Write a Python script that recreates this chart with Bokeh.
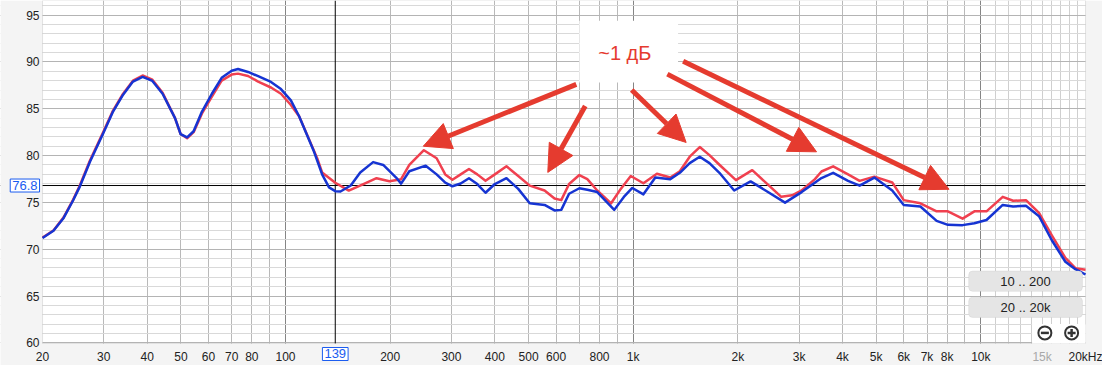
from bokeh.plotting import figure
from bokeh.models import (FixedTicker, Grid, Span, Label, Arrow, NormalHead, BoxAnnotation,
                          LogAxis, LinearAxis)
from bokeh.embed import file_html
from bokeh.resources import INLINE

# ---- data ----
freq_red = [20, 21.5, 23.0, 24.5, 25.6, 27.4, 29.9, 31.9, 34.1, 36.4, 38.8, 41.4, 44.3, 48.1,
            49.9, 52.1, 54.4, 57.5, 61.4, 65.5, 70, 73, 78, 83.4, 90.8, 97, 103.6, 109.4,
            123.4, 127.4, 139, 152, 167.5, 182.7, 199, 215, 227, 250, 272, 288, 302, 319,
            337, 356, 376, 400, 432, 467, 504, 556, 594, 621, 654, 700, 738, 788, 864, 921,
            984, 1070, 1170, 1278, 1362, 1454, 1554, 1657, 1770, 1975, 2200, 2402, 2666,
            2864, 3052, 3332, 3480, 3760, 4150, 4480, 4940, 5560, 6000, 6700, 7460, 8040,
            8860, 9580, 10380, 11560, 12380, 13480, 14700, 16000, 17500, 18700, 20000]
red_db = [71.25, 72.0, 73.4, 75.3, 76.8, 79.5, 82.5, 84.8, 86.6, 88.0, 88.55, 88.1, 86.7, 84.0,
          82.3, 81.85, 82.5, 84.5, 86.3, 88.0, 88.65, 88.75, 88.5, 87.9, 87.27, 86.6, 85.4, 84.2,
          79.7, 78.2, 77.1, 76.26, 76.96, 77.58, 77.25, 77.48, 79.0, 80.57, 79.71, 77.99, 77.41,
          77.99, 78.57, 77.99, 77.3, 77.99, 78.85, 77.82, 76.79, 76.27, 75.41, 75.24, 76.96,
          77.92, 77.48, 76.27, 74.9, 76.44, 77.82, 77.04, 78.06, 77.65, 78.33, 79.88, 80.91,
          80.05, 79.02, 77.38, 78.44, 77.14, 75.59, 75.76, 76.27, 77.48, 78.3, 78.85, 77.99,
          77.3, 77.75, 77.13, 75.24, 74.9, 74.04, 74.04, 73.26, 74.04, 74.04, 75.59, 75.17,
          75.24, 73.87, 71.48, 69.07, 67.97, 67.8]

freq_blue = [20, 21.5, 23.0, 24.5, 25.6, 27.4, 29.9, 31.9, 34.1, 36.4, 38.8, 41.4, 44.3, 48.1,
             49.9, 52.1, 54.4, 57.5, 61.4, 65.5, 70, 73, 78, 83.4, 90.8, 97, 103.6, 109.4,
             120.8, 127.4, 133.4, 139, 143.9, 154, 164, 178.6, 191, 208, 215, 227, 253, 272,
             288, 302, 319, 337, 356, 376, 400, 432, 467, 504, 556, 594, 621, 654, 700, 738,
             788, 882, 940, 994, 1070, 1158, 1278, 1362, 1454, 1554, 1657, 1770, 1952, 2176,
             2402, 2734, 3052, 3480, 3760, 4150, 4480, 4940, 5560, 6000, 6700, 7460, 8040,
             8860, 9580, 10380, 11560, 12380, 13480, 14700, 16000, 17500, 18700, 20000]
blue_db = [71.2, 71.97, 73.34, 75.23, 76.68, 79.36, 82.39, 84.7, 86.5, 87.9, 88.4, 87.97, 86.6,
           84.0, 82.3, 81.94, 82.6, 84.7, 86.6, 88.3, 89.06, 89.24, 88.93, 88.48, 87.86, 87.1,
           85.9, 84.2, 80.4, 78.0, 76.6, 76.2, 76.16, 76.8, 78.2, 79.3, 79.0, 77.65, 77.0, 78.33,
           78.92, 77.99, 77.1, 76.72, 77.02, 77.58, 76.96, 76.03, 76.96, 77.58, 76.44, 74.9,
           74.73, 74.14, 74.2, 75.92, 76.51, 76.34, 76.1, 74.2, 75.58, 76.54, 75.86, 77.65,
           77.48, 78.16, 79.19, 79.88, 79.19, 78.16, 76.27, 77.24, 76.27, 74.97, 76.1, 77.6,
           78.16, 77.3, 76.79, 77.65, 76.27, 74.73, 74.56, 73.02, 72.6, 72.57, 72.78, 73.12,
           74.73, 74.56, 74.63, 73.53, 70.96, 68.66, 67.87, 67.3]

x_ticks = [20, 30, 40, 50, 60, 70, 80, 100, 200, 300, 400, 500, 600, 800, 1000, 2000,
           3000, 4000, 5000, 6000, 7000, 8000, 10000, 20000]
x_tick_labels = ["20", "30", "40", "50", "60", "70", "80", "100", "200", "300", "400", "500",
                 "600", "800", "1k", "2k", "3k", "4k", "5k", "6k", "7k", "8k", "10k", "20kHz"]
x_extra_tick = [15000]
x_extra_label = ["15k"]
y_ticks = [60, 65, 70, 75, 80, 85, 90, 95]
y_fine = list(range(61, 97))
grid_regular = [30, 40, 50, 60, 70, 80, 90, 200, 300, 400, 500, 600, 700, 800, 900,
                2000, 3000, 4000, 5000, 6000, 7000, 8000, 9000]
grid_decades = [100, 1000, 10000]
grid_fine_hi = [11000, 12000, 13000, 14000, 15000, 16000, 17000, 18000, 19000]

cursor_freq = 139
cursor_db = 76.8
note_text = "~1 дБ"
button_texts = ["10 .. 200", "20 .. 20k"]

# ---- styling / layout ----
FONT = "Liberation Sans"
RED = "#f0404f"
BLUE = "#1634d2"
ARROW = "#e53b2f"
CURSOR_BLUE = "#1a5cf0"
PANEL = "#f4f4f4"
F_LO, F_HI = 20, 20000          # plot area in Hz
Y0, Y1 = 59.93, 96.56           # plot area in dB
XR = (15.14, 22381)             # whole canvas (incl. label margins)
YR = (57.58, 96.56)

p = figure(x_axis_type="log", x_range=XR, y_range=YR,
           frame_width=1102, frame_height=365, min_border=0,
           x_axis_location=None, y_axis_location=None,
           output_backend="svg", toolbar_location=None,
           background_fill_color="white", border_fill_color=PANEL, outline_line_color=None)

# grids
p.add_layout(Grid(dimension=0, ticker=FixedTicker(ticks=grid_fine_hi), grid_line_color="#cfcfcf"))
p.add_layout(Grid(dimension=0, ticker=FixedTicker(ticks=grid_regular), grid_line_color="#b9b9b9"))
p.add_layout(Grid(dimension=0, ticker=FixedTicker(ticks=grid_decades), grid_line_color="#858585"))
p.add_layout(Grid(dimension=1, ticker=FixedTicker(ticks=y_fine), grid_line_color="#d9d9d9"))
p.add_layout(Grid(dimension=1, ticker=FixedTicker(ticks=y_ticks), grid_line_color="#b4b4b4"))

# cursor lines (underlay, cut off by the label margins)
p.add_layout(Span(location=cursor_freq, dimension="height", line_color="black", line_width=1,
                  level="underlay"))
p.add_layout(Span(location=cursor_db, dimension="width", line_color="black", line_width=1,
                  level="underlay"))

# grey label margins around the plot area
p.add_layout(BoxAnnotation(right=F_LO, level="underlay", fill_color=PANEL, fill_alpha=1,
                           line_color=None))
p.add_layout(BoxAnnotation(left=F_HI, level="underlay", fill_color=PANEL, fill_alpha=1,
                           line_color=None))
p.add_layout(BoxAnnotation(top=Y0, level="underlay", fill_color=PANEL, fill_alpha=1,
                           line_color=None))
p.add_layout(BoxAnnotation(left=F_LO, right=F_HI, bottom=Y0, level="underlay",
                           fill_color=None, fill_alpha=0, line_color="#a8a8a8", line_width=1))

# white patches (note background, zoom icons background)
p.add_layout(BoxAnnotation(left=700, right=1346, top=94.4, bottom=87.8, level="underlay",
                           fill_color="white", fill_alpha=1, line_color=None))
p.add_layout(BoxAnnotation(left=14040, right=F_HI, top=62.0, bottom=Y0, level="underlay",
                           fill_color="white", fill_alpha=1, line_color=None))


def style_axis(ax, color="#222222", standoff=6):
    ax.axis_line_color = None
    ax.major_tick_line_color = None
    ax.minor_tick_line_color = None
    ax.major_tick_out = 0
    ax.major_tick_in = 0
    ax.major_label_text_font = FONT
    ax.major_label_text_font_size = "12px"
    ax.major_label_text_color = color
    ax.major_label_standoff = standoff


xaxis = LogAxis(fixed_location=Y0, ticker=FixedTicker(ticks=x_ticks),
                major_label_overrides={t: l for t, l in zip(x_ticks, x_tick_labels)})
style_axis(xaxis, standoff=7)
p.add_layout(xaxis, "below")
ax_15k = LogAxis(fixed_location=Y0, ticker=FixedTicker(ticks=x_extra_tick),
                 major_label_overrides={t: l for t, l in zip(x_extra_tick, x_extra_label)})
style_axis(ax_15k, "#a8a8a8", standoff=7)
p.add_layout(ax_15k, "below")
yaxis = LinearAxis(fixed_location=F_LO, ticker=FixedTicker(ticks=y_ticks))
style_axis(yaxis, standoff=3)
p.add_layout(yaxis, "left")

# curves
p.line(freq_red, red_db, line_color=RED, line_width=2.5, line_join="round")
p.line(freq_blue, blue_db, line_color=BLUE, line_width=2.5, line_join="round")

# note and arrows
p.add_layout(Label(x=946, y=90.9, text=note_text, text_align="center", text_baseline="middle",
                   text_font=FONT, text_font_size="20px", text_color=ARROW))
arrows = [(686, 87.6, 249, 81.0), (728, 85.3, 568, 78.2), (990, 87.0, 1420, 81.4),
          (1254, 88.7, 3368, 80.4), (1392, 90.06, 8100, 76.4)]
for xs, ys, xe, ye in arrows:
    p.add_layout(Arrow(end=NormalHead(size=27, fill_color=ARROW, line_color=ARROW, line_width=1),
                       x_start=xs, y_start=ys, x_end=xe, y_end=ye,
                       line_color=ARROW, line_width=5))

# buttons and zoom icons
for (top, bottom), txt in zip([(67.67, 65.5), (64.88, 62.71)], button_texts):
    p.add_layout(BoxAnnotation(left=9226, right=19600, top=top, bottom=bottom,
                               fill_color="#e5e5e5", fill_alpha=1, line_color="#c6c6c6",
                               line_width=1, border_radius=4))
    p.add_layout(Label(x=13440, y=(top + bottom) / 2, text=txt, text_align="center",
                       text_baseline="middle", text_font=FONT, text_font_size="13px",
                       text_color="#222222"))
p.scatter([15280, 18240], [61.06, 61.06], marker="circle", size=13, fill_color="white",
          line_color="#333333", line_width=2)
p.scatter([15280], [61.06], marker="dash", size=8, line_color="#333333", line_width=2.5)
p.scatter([18240], [61.06], marker="cross", size=8, line_color="#333333", line_width=2.5)

# cursor value boxes
p.add_layout(Label(x=cursor_freq, y=Y0, y_offset=-4, text=str(cursor_freq),
                   text_align="center", text_baseline="top", text_font=FONT,
                   text_font_size="13px", text_color=CURSOR_BLUE,
                   background_fill_color="white", border_line_color=CURSOR_BLUE, padding=2))
p.add_layout(Label(x=F_LO, y=cursor_db, x_offset=-3, text=str(cursor_db),
                   text_align="right", text_baseline="middle", text_font=FONT,
                   text_font_size="13px", text_color=CURSOR_BLUE,
                   background_fill_color="white", border_line_color=CURSOR_BLUE, padding=2))

open("out.html", "w").write(file_html(p, INLINE))
